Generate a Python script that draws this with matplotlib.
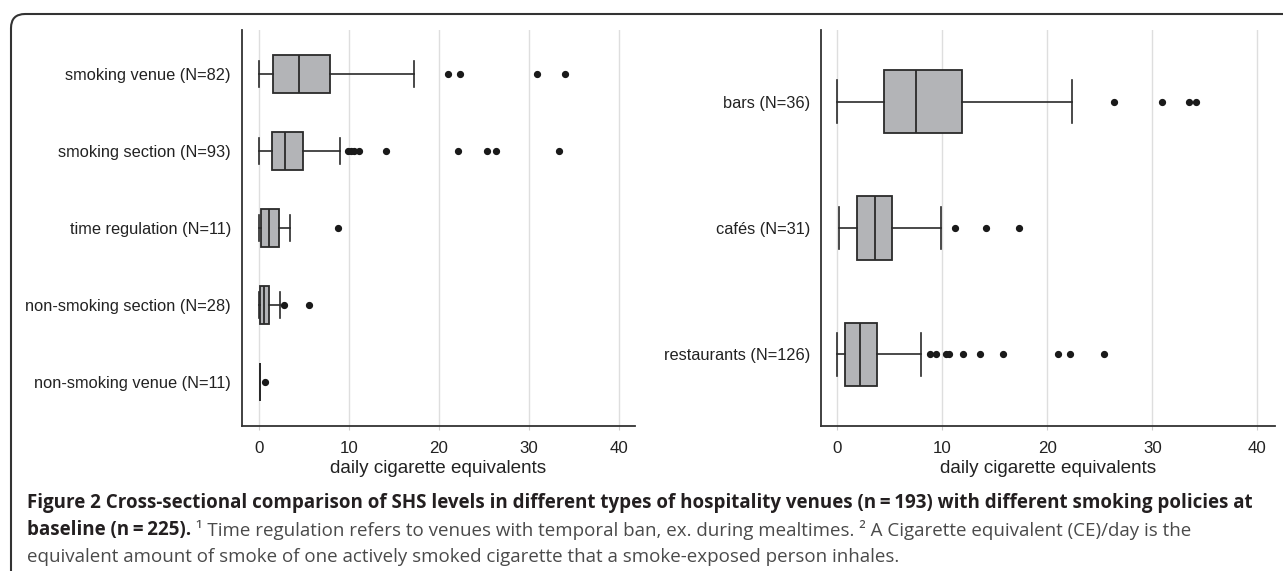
import matplotlib
matplotlib.use("Agg")
import matplotlib.pyplot as plt
from matplotlib.patches import FancyBboxPatch

# left panel: smoking policy
policy_labels = ['smoking venue (N=82)', 'smoking section (N=93)', 'time regulation (N=11)',
                 'non-smoking section (N=28)', 'non-smoking venue (N=11)']
policy_whislo = [0.0, 0.0, 0.0, 0.0, 0.05]
policy_q1 = [1.5, 1.4, 0.25, 0.15, 0.08]
policy_med = [4.45, 2.9, 1.1, 0.5, 0.08]
policy_q3 = [7.9, 4.85, 2.2, 1.15, 0.1]
policy_whishi = [17.2, 9.05, 3.4, 2.3, 0.12]
policy_fliers = [[21.0, 22.3, 30.9, 34.0],
                 [9.9, 10.2, 10.6, 11.1, 14.1, 22.1, 25.3, 26.3, 33.4],
                 [8.8],
                 [2.75, 5.55],
                 [0.65]]

# right panel: venue type
venue_labels = ['bars (N=36)', 'cafés (N=31)', 'restaurants (N=126)']
venue_whislo = [0.0, 0.1, 0.0]
venue_q1 = [4.45, 1.9, 0.7]
venue_med = [7.45, 3.55, 2.15]
venue_q3 = [11.9, 5.15, 3.8]
venue_whishi = [22.3, 9.85, 8.0]
venue_fliers = [[26.3, 30.9, 33.5, 34.1],
                [11.2, 14.1, 17.3],
                [8.8, 9.4, 10.3, 10.6, 11.95, 13.6, 15.8, 21.0, 22.1, 25.4]]

xticks = [0, 10, 20, 30, 40]
xlabel = 'daily cigarette equivalents'

W, H = 1283, 571
fig = plt.figure(figsize=(W / 100, H / 100), dpi=100)
plt.rcParams['font.family'] = ['Liberation Sans', 'DejaVu Sans']

line_col = '#2a2a2a'


def px_axes(x0, x1, ytop, ybot):
    return fig.add_axes([x0 / W, 1 - ybot / H, (x1 - x0) / W, (ybot - ytop) / H])


def draw_panel(ax, labels, whislo, q1, med, q3, whishi, fliers, xlim):
    n = len(labels)
    stats = []
    for i in range(n):
        stats.append(dict(whislo=whislo[i], q1=q1[i], med=med[i], q3=q3[i],
                          whishi=whishi[i], fliers=fliers[i], label=labels[i]))
    pos = list(range(n, 0, -1))
    ax.bxp(stats, positions=pos, vert=False, widths=0.5, capwidths=0.34,
           patch_artist=True,
           boxprops=dict(facecolor='#b3b4b7', edgecolor=line_col, linewidth=1.3),
           medianprops=dict(color=line_col, linewidth=1.3),
           whiskerprops=dict(color=line_col, linewidth=1.2),
           capprops=dict(color=line_col, linewidth=1.2),
           flierprops=dict(marker='o', markerfacecolor='#1a1a1a', markeredgecolor='#1a1a1a',
                           markersize=4.2, linestyle='none'))
    ax.set_ylim(0.43, n + 0.57)
    ax.set_xlim(*xlim)
    ax.set_xticks(xticks)
    ax.set_xticklabels([str(t) for t in xticks])
    ax.xaxis.grid(True, color='#dedede', linewidth=1.0)
    ax.set_axisbelow(True)
    for s in ['top', 'right']:
        ax.spines[s].set_visible(False)
    for s in ['left', 'bottom']:
        ax.spines[s].set_color('#333333')
        ax.spines[s].set_linewidth(1.3)
    ax.tick_params(axis='y', length=0, pad=8, labelsize=11.8, labelcolor='#222222')
    ax.tick_params(axis='x', length=3, color='#cccccc', pad=8, labelsize=12.2, labelcolor='#222222')
    ax.set_xlabel(xlabel, fontsize=13.6, color='#222222', labelpad=3)


ax1 = px_axes(242, 635, 30, 426)
draw_panel(ax1, policy_labels, policy_whislo, policy_q1, policy_med, policy_q3,
           policy_whishi, policy_fliers, (-1.9, 41.8))

ax2 = px_axes(821, 1275, 30, 426)
draw_panel(ax2, venue_labels, venue_whislo, venue_q1, venue_med, venue_q3,
           venue_whishi, venue_fliers, (-1.57, 41.67))

# rounded frame, cut off at right and bottom edge
frame = FancyBboxPatch((11 / W, -0.2), 1.2, 1 - 14 / H + 0.2,
                       boxstyle='round,pad=0,rounding_size=0.011',
                       transform=fig.transFigure, fill=False,
                       edgecolor='#333333', linewidth=1.5, mutation_aspect=W / H)
fig.patches.append(frame)

# caption
cap_font = ['Open Sans', 'DejaVu Sans']
line1 = ('Figure 2 Cross-sectional comparison of SHS levels in different types of hospitality '
         'venues (n\u2009=\u2009193) with different smoking policies at')
line2a = 'baseline (n\u2009=\u2009225).'
line2b = (' \u00b9 Time regulation refers to venues with temporal ban, ex. during mealtimes. '
          '\u00b2 A Cigarette equivalent (CE)/day is the')
line3 = 'equivalent amount of smoke of one actively smoked cigarette that a smoke-exposed person inhales.'

fs = 14
t1 = fig.text(27 / W, 1 - 503 / H, line1, family=cap_font, fontweight='bold', fontsize=fs,
              va='center', ha='left', color='#231f20')
r = fig.canvas.get_renderer()
w = t1.get_window_extent(r).width
fs = fs * (1231 / w)
t1.set_fontsize(fs)

t2 = fig.text(27 / W, 1 - 530 / H, line2a, family=cap_font, fontweight='bold', fontsize=fs,
              va='center', ha='left', color='#231f20')
fig.canvas.draw()
ext = t2.get_window_extent(r)
fig.text(ext.x1 / W, 1 - 530 / H, line2b, family=cap_font, fontsize=fs,
         va='center', ha='left', color='#4a4a4a')
fig.text(27 / W, 1 - 557 / H, line3, family=cap_font, fontsize=fs,
         va='center', ha='left', color='#4a4a4a')

fig.savefig('out.png', dpi=100)
